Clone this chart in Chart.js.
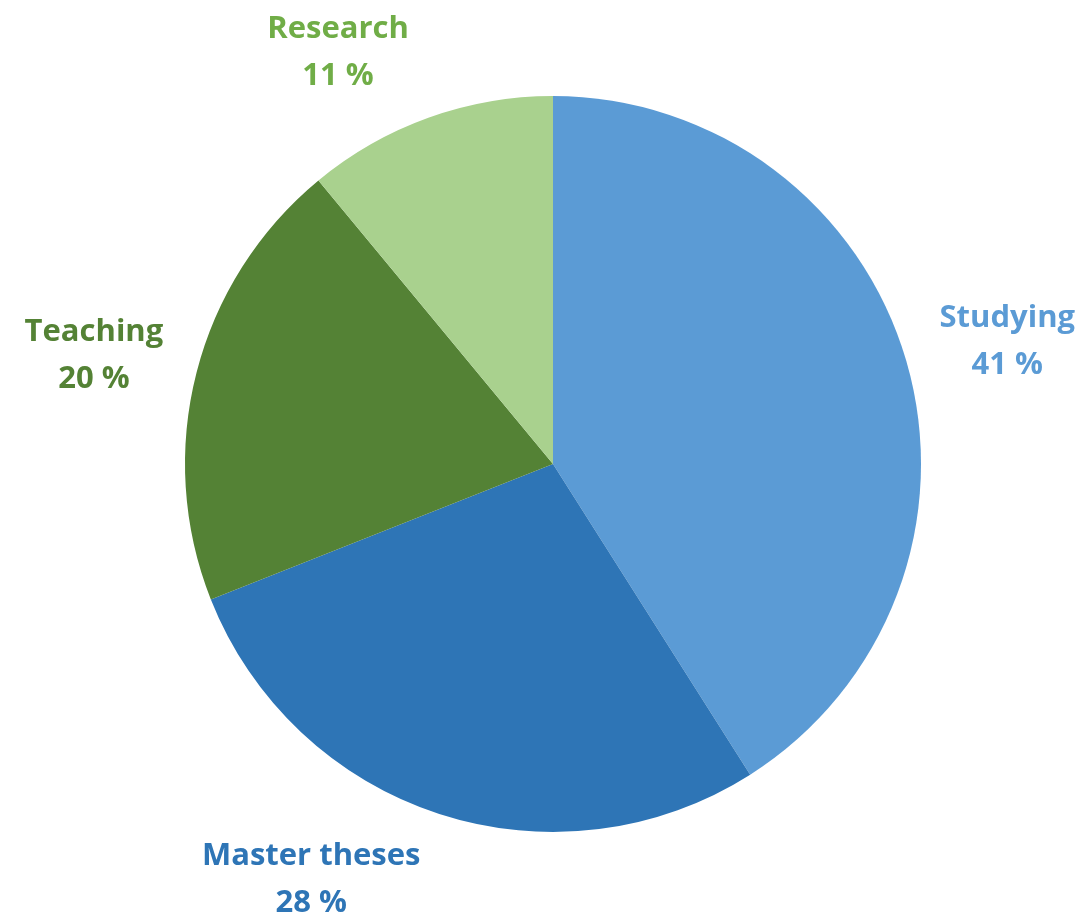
<!DOCTYPE html>
<html>
<head>
<meta charset="utf-8">
<script src="https://cdn.jsdelivr.net/npm/chart.js@4/dist/chart.umd.min.js"></script>
<style>
  html, body { margin: 0; padding: 0; background: #fff; }
  #wrap { width: 1088px; height: 923px; }
</style>
</head>
<body>
<div id="wrap"><canvas id="mycanvas"></canvas></div>
<script>
var categories = ['Studying', 'Master theses', 'Teaching', 'Research'];
var shares = [41, 28, 20, 11];
var sliceColors = ['#5B9BD5', '#2E75B6', '#548235', '#A9D18E'];
var labelColors = ['#5B9BD5', '#2E75B6', '#548235', '#70AD47'];

// draws "Name / NN %" outside each slice, like Excel's best-fit labels
var outsideLabels = {
	id: 'outsideLabels',
	afterDatasetsDraw: function(chart) {
		var ctx = chart.ctx;
		var meta = chart.getDatasetMeta(0);
		var lineH = 47;
		ctx.save();
		ctx.font = 'bold 31px "Open Sans", Lato, sans-serif';
		ctx.textAlign = 'center';
		ctx.textBaseline = 'middle';
		meta.data.forEach(function(arc, i) {
			var mid = (arc.startAngle + arc.endAngle) / 2;
			var dx = Math.cos(mid), dy = Math.sin(mid);
			var r = arc.outerRadius + 22;
			var ax = arc.x + dx * r, ay = arc.y + dy * r;
			var line1 = categories[i];
			var line2 = shares[i] + ' %';
			var w = Math.max(ctx.measureText(line1).width, ctx.measureText(line2).width);
			var h = lineH * 2;
			var cx = ax + (dx < 0 ? -1 : 1) * (w / 2 + 12);
			var cy = ay + dy * h / 2;
			ctx.fillStyle = labelColors[i];
			ctx.fillText(line1, cx, cy - lineH / 2);
			ctx.fillText(line2, cx, cy + lineH / 2);
		});
		ctx.restore();
	}
};

var chartdata = {
	labels: categories,
	datasets: [{
		data: shares,
		backgroundColor: sliceColors,
		borderWidth: 0
	}]
};

var bargraph = new Chart(document.getElementById('mycanvas'), {
	type: 'pie',
	data: chartdata,
	options: {
		responsive: true,
		maintainAspectRatio: false,
		animation: false,
		layout: { padding: { top: 96, bottom: 91, left: 185, right: 167 } },
		plugins: {
			legend: { display: false },
			tooltip: { enabled: false }
		}
	},
	plugins: [outsideLabels]
});
</script>
</body>
</html>
